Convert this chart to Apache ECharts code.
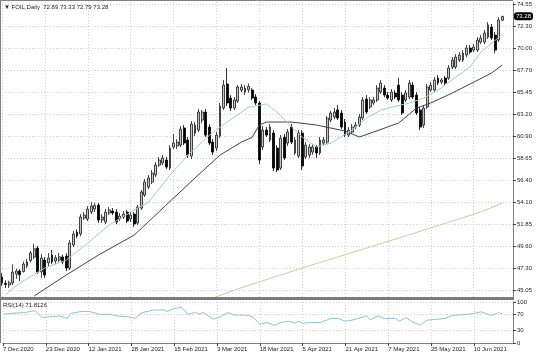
<!DOCTYPE html>
<html><head><meta charset="utf-8">
<script src="https://cdn.jsdelivr.net/npm/echarts@6/dist/echarts.min.js"></script>
<style>html,body{margin:0;padding:0;background:#fff}#c{width:536px;height:357px}</style>
</head><body><div id="c"></div>
<script>
const symbol = 'FOIL,Daily';
const dateLabels = ['7 Dec 2020','23 Dec 2020','12 Jan 2021','28 Jan 2021','15 Feb 2021','3 Mar 2021','18 Mar 2021','5 Apr 2021','21 Apr 2021','7 May 2021','25 May 2021','10 Jun 2021'];
const labelStep = 12;
const futureBars = 3;
// [open, high, low, close]
const ohlc = [
[46.39,46.80,45.46,45.77],[45.75,46.05,45.26,45.62],[45.57,46.00,45.26,45.80],[45.78,47.70,45.55,46.90],[46.70,47.25,46.20,47.02],
[47.00,47.20,45.98,46.62],[46.95,48.00,46.85,47.72],[47.50,48.25,47.30,47.95],[48.10,49.08,47.92,48.88],[48.45,49.82,48.25,49.30],
[49.38,49.60,46.70,46.90],[46.92,48.75,46.30,48.35],[48.15,48.45,46.30,46.60],[47.85,48.86,47.50,48.35],[48.66,49.18,47.73,47.94],
[48.04,48.66,47.73,48.38],[48.14,48.86,47.94,48.48],[48.45,48.70,47.70,47.94],[48.55,48.86,47.00,47.32],[47.32,50.21,47.11,49.90],
[49.69,51.14,49.48,50.83],[51.03,51.30,50.40,50.62],[50.83,52.89,50.60,52.57],[52.47,53.09,52.27,52.78],[52.37,53.71,52.16,53.40],
[53.09,54.12,52.89,53.71],[53.40,54.05,53.10,53.76],[53.81,54.02,51.96,52.27],[52.27,52.89,51.96,52.57],[52.06,53.40,51.85,53.09],
[52.99,53.61,52.78,53.30],[53.20,53.50,52.78,52.99],[53.09,53.40,51.85,52.06],[52.37,52.99,52.16,52.68],[52.57,53.20,52.37,52.89],
[53.09,53.30,51.96,52.16],[52.37,53.09,52.06,52.78],[52.89,53.09,51.54,51.85],[51.96,53.81,51.75,53.61],[53.50,55.36,53.30,55.16],
[54.85,56.50,54.64,56.19],[55.67,56.91,55.46,56.60],[56.19,57.43,55.98,57.12],[56.91,58.25,56.70,57.94],[57.94,58.77,57.73,58.46],
[58.15,58.97,57.94,58.66],[58.46,58.77,57.53,57.73],[57.63,60.00,57.43,59.69],[59.80,61.14,59.59,60.21],[59.90,60.62,59.60,60.31],
[60.00,61.96,59.80,61.65],[61.76,62.07,60.00,60.21],[60.52,60.83,58.66,58.97],[58.87,62.48,58.56,62.17],[61.24,62.38,60.93,62.07],
[61.55,63.72,61.34,63.41],[62.58,63.62,62.27,63.41],[63.41,63.72,60.83,61.03],[61.86,62.17,60.00,60.21],[60.31,60.62,58.97,59.28],
[59.69,61.34,59.38,61.03],[60.93,64.34,60.72,64.03],[63.82,66.71,63.62,66.19],[66.30,67.95,64.03,64.34],[64.85,65.16,63.51,63.82],
[63.82,64.96,63.62,64.65],[64.54,66.19,64.34,65.99],[65.68,66.30,65.47,65.99],[65.47,66.19,65.16,65.88],[65.70,66.35,65.40,66.05],
[65.68,65.88,64.65,64.85],[64.96,65.26,64.13,64.34],[64.34,64.54,58.05,58.46],[59.80,61.96,59.49,61.55],[61.55,61.86,60.83,61.03],
[60.52,62.17,60.31,61.86],[61.24,61.55,57.33,57.63],[59.69,60.00,57.22,57.43],[57.63,61.03,57.43,60.72],[60.83,61.14,58.46,58.66],
[60.21,61.65,59.90,61.34],[61.86,62.17,60.10,60.31],[59.18,60.83,58.97,60.52],[58.87,61.55,58.66,61.24],[61.24,61.55,57.43,57.84],
[58.77,60.31,58.56,60.00],[58.97,60.10,58.66,59.80],[59.28,60.10,59.00,59.80],[59.80,60.00,58.66,59.18],[59.18,60.83,58.97,60.52],
[60.21,60.83,60.00,60.52],[60.31,63.00,60.10,62.79],[62.58,63.51,62.38,63.31],[62.89,63.82,62.69,63.41],[63.62,64.13,62.58,62.79],
[63.31,63.62,61.65,61.86],[62.38,62.69,60.83,61.03],[61.03,61.86,60.83,61.55],[61.34,62.17,61.14,61.86],[61.86,62.38,61.65,62.07],
[62.07,63.20,61.86,62.89],[62.79,64.96,62.58,64.65],[64.75,65.16,63.20,63.41],[63.93,64.96,63.72,64.65],[64.34,64.96,64.13,64.65],
[64.65,66.19,64.44,65.88],[65.47,66.71,65.26,66.40],[65.88,66.19,64.96,65.16],[65.16,65.47,64.65,64.85],[64.65,65.78,64.44,65.47],
[65.37,65.68,64.75,64.96],[66.19,66.91,64.44,64.65],[65.16,65.47,63.10,63.31],[64.65,65.68,64.44,65.37],[64.96,66.71,64.75,66.40],
[66.19,66.50,64.75,64.96],[65.16,65.47,63.10,63.31],[63.62,63.93,61.55,61.86],[62.07,64.13,61.76,63.82],[63.93,66.30,63.72,65.99],
[65.68,66.50,65.47,66.19],[65.68,67.02,65.47,66.71],[66.91,67.22,66.19,66.40],[66.50,66.91,66.30,66.71],[66.91,67.12,66.19,66.40],
[66.91,68.26,66.71,67.95],[68.05,69.08,67.84,68.77],[68.05,69.39,67.84,69.08],[68.77,69.60,68.57,69.29],[68.77,69.80,68.57,69.49],
[69.29,70.32,69.08,70.01],[70.01,70.32,69.39,69.60],[69.80,70.42,69.60,70.11],[69.80,71.14,69.60,70.84],[70.63,71.35,70.42,71.04],
[70.63,71.87,70.42,71.56],[71.14,72.69,70.94,72.38],[72.18,72.49,70.84,71.04],[71.35,71.66,69.49,69.80],[70.84,73.21,70.63,72.90],
[72.89,73.33,72.79,73.28]
];
const priceTicks = [45.05,47.30,49.60,51.85,54.10,56.40,58.65,60.90,63.20,65.45,67.70,70.00,72.30,74.55];
const rsiTicks = [0,30,70,100];
// moving averages: [bar index, value]
const fastMA = [[1,44.6],[5,45.77],[12,47.32],[18,48.14],[24,49.9],[30,51.75],[37,53.3],[41,54.1],[47,56.9],[52,58.97],[58,61.0],[63,62.38],[69,63.9],[74,64.24],[77,63.4],[81,61.86],[84,60.83],[88,59.8],[92,60.2],[98,61.55],[102,62.8],[106,63.6],[109,63.9],[114,64.34],[118,64.85],[123,65.9],[127,67.02],[131,68.05],[134,69.6],[138,70.8],[140,71.4]];
const slowMA = [[9,44.43],[18,46.6],[27,48.66],[37,50.72],[54,56.6],[61,58.97],[67,60.31],[70,60.8],[72,62.07],[74,62.38],[81,62.38],[88,62.07],[96,61.45],[100,60.83],[104,61.35],[111,62.28],[116,63.82],[120,64.34],[126,65.37],[131,66.3],[137,67.43],[140,68.26]];
const longMA = [[59,44.22],[65,45.05],[84,47.32],[112,50.52],[134,53.1],[140,54.0]];
const rsi = [[0,70],[3,73],[6,74],[9,79],[11,62],[14,65],[16,66],[18,60],[19,72],[22,77],[24,77],[25,75],[27,70],[30,70],[32,66],[35,64],[37,60],[39,74],[42,80],[45,81],[46,77],[48,84],[50,87],[52,70],[54,75],[55,70],[56,75],[59,58],[61,64],[63,74],[65,68],[68,68],[70,64],[72,46],[74,50],[76,43],[78,50],[80,53],[82,49],[83,53],[84,48],[86,50],[89,50],[92,60],[94,60],[96,53],[98,56],[102,66],[103,56.5],[105,66],[107,60],[110,60],[111,53],[113,62],[115,50.5],[117,44],[119,56],[122,58],[124,60],[126,67],[130,70],[132,72],[134,76],[136,70],[137,67],[139,74],[140,71.81]];
const rsiValue = 71.8126;

const FONT = '"Liberation Sans Narrow","Liberation Sans",Arial,sans-serif';
const FS = 6;
const cats = Array.from({length: ohlc.length + futureBars}, (_, i) => String(i));
const last = ohlc[ohlc.length - 1];
const gridStyle = {color: '#d0d0d0', type: [1, 2], width: 1};
const chart = echarts.init(document.getElementById('c'), null, {renderer: 'canvas'});
const option = {
  animation: false,
  backgroundColor: '#fff',
  grid: [
    {left: 2, right: 23, top: 2, height: 295},
    {left: 2, right: 23, top: 302, height: 41}
  ],
  xAxis: [
    {type: 'category', gridIndex: 0, data: cats, boundaryGap: false,
     axisLine: {show: false}, axisTick: {show: false}, axisLabel: {show: false},
     splitLine: {show: true, interval: labelStep - 1, lineStyle: gridStyle}},
    {type: 'category', gridIndex: 1, data: cats, boundaryGap: false,
     axisLine: {show: true, lineStyle: {color: '#808080', width: 1}},
     axisTick: {show: true, interval: labelStep - 1, length: 3, lineStyle: {color: '#444'}},
     axisLabel: {interval: labelStep - 1, formatter: (v, i) => dateLabels[i / labelStep] || '',
       align: 'left', fontSize: FS, color: '#222', fontFamily: FONT, margin: 3},
     splitLine: {show: true, interval: labelStep - 1, lineStyle: gridStyle}}
  ],
  yAxis: [
    {type: 'value', gridIndex: 0, position: 'right', min: 44.33, max: 74.76,
     axisLine: {show: true, lineStyle: {color: '#808080'}},
     axisTick: {show: true, length: 3, customValues: priceTicks, lineStyle: {color: '#444'}},
     axisLabel: {customValues: priceTicks, formatter: v => v.toFixed(2), fontSize: FS, color: '#222', fontFamily: FONT, margin: 4},
     splitLine: {show: true, lineStyle: gridStyle},
     axisPointer: {show: true, status: 'show', value: last[3], triggerTooltip: false, type: 'line',
       lineStyle: {opacity: 0},
       label: {show: true, formatter: p => Number(p.value).toFixed(2), backgroundColor: '#000', color: '#fff',
         fontSize: FS, fontFamily: FONT, padding: [1, 2, 1, 2], margin: 1}}},
    {type: 'value', gridIndex: 1, position: 'right', min: 0, max: 100,
     axisLine: {show: true, lineStyle: {color: '#808080'}},
     axisTick: {show: true, length: 3, customValues: rsiTicks, lineStyle: {color: '#444'}},
     axisLabel: {customValues: rsiTicks, fontSize: FS, color: '#222', fontFamily: FONT, margin: 4},
     splitLine: {show: true, lineStyle: gridStyle}}
  ],
  series: [
    {type: 'candlestick', xAxisIndex: 0, yAxisIndex: 0, barWidth: 2.4,
     data: ohlc.map(([o, h, l, c]) => [o, c, l, h]),
     itemStyle: {color: '#c4c4c4', color0: '#000', borderColor: '#1a1a1a', borderColor0: '#000', borderWidth: 0.8}},
    {type: 'line', xAxisIndex: 0, yAxisIndex: 0, data: longMA, showSymbol: false, connectNulls: true,
     lineStyle: {color: '#d6c7a2', width: 1}},
    {type: 'line', xAxisIndex: 0, yAxisIndex: 0, data: slowMA, showSymbol: false, connectNulls: true,
     lineStyle: {color: '#3f3f5c', width: 1}},
    {type: 'line', xAxisIndex: 0, yAxisIndex: 0, data: fastMA, showSymbol: false, connectNulls: true,
     lineStyle: {color: '#a2cdbf', width: 1}},
    {type: 'line', xAxisIndex: 1, yAxisIndex: 1, data: rsi, showSymbol: false, connectNulls: true,
     lineStyle: {color: '#8ec2d8', width: 1}}
  ],
  graphic: [
    {type: 'line', shape: {x1: 0.5, y1: 0, x2: 0.5, y2: 343}, style: {stroke: '#808080', lineWidth: 1}, silent: true, z: 100},
    {type: 'line', shape: {x1: 0, y1: 0.5, x2: 513, y2: 0.5}, style: {stroke: '#808080', lineWidth: 1}, silent: true, z: 100},
    {type: 'rect', shape: {x: 0, y: 297, width: 514, height: 3}, style: {fill: '#7a7a7a'}, silent: true, z: 100},
    {type: 'text', left: 4, top: 4, silent: true, z: 100,
     style: {text: '\u25BC ' + symbol + '  ' + [last[0], last[1], last[2], last[3]].map(v => v.toFixed(2)).join(' '),
       fontSize: FS, fontFamily: FONT, fill: '#222'}},
    {type: 'text', left: 3, top: 302, silent: true, z: 100,
     style: {text: 'RSI(14) ' + rsiValue.toFixed(4), fontSize: FS, fontFamily: FONT, fill: '#222'}}
  ]
};
chart.setOption(option);
</script></body></html>
